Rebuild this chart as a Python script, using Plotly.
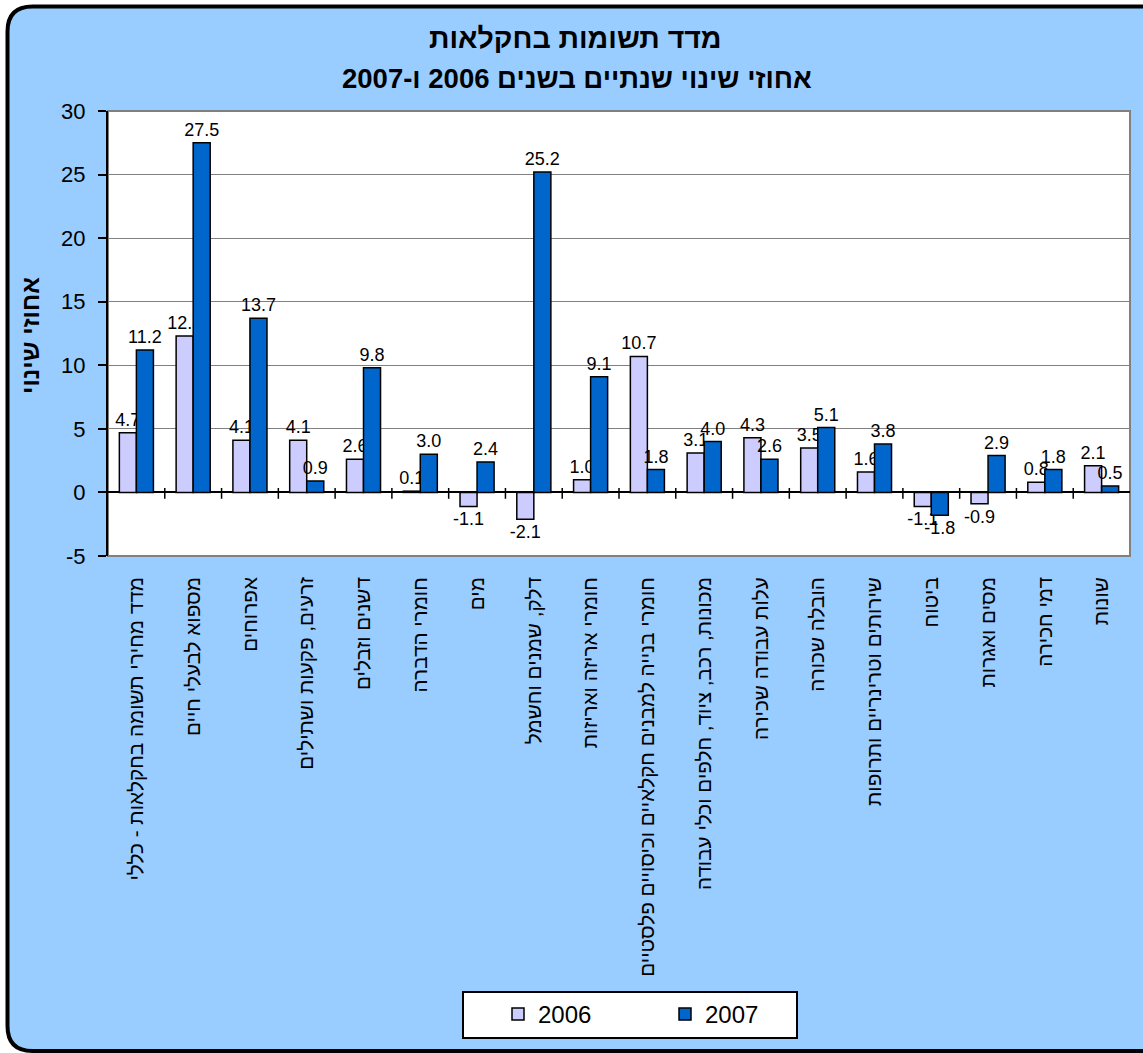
import plotly.graph_objects as go

categories = [
    "מדד מחירי תשומה בחקלאות - כללי",
    "מספוא לבעלי חיים",
    "אפרוחים",
    "זרעים, פקעות ושתילים",
    "דשנים וזבלים",
    "חומרי הדברה",
    "מים",
    "דלק, שמנים וחשמל",
    "חומרי אריזה ואריזות",
    "חומרי בנייה למבנים חקלאיים וכיסויים פלסטיים",
    "מכונות, רכב, ציוד, חלפים וכלי עבודה",
    "עלות עבודה שכירה",
    "הובלה שכורה",
    "שירותים וטרינריים ותרופות",
    "ביטוח",
    "מסים ואגרות",
    "דמי חכירה",
    "שונות",
]
values_2006 = [4.7, 12.3, 4.1, 4.1, 2.6, 0.1, -1.1, -2.1, 1.0, 10.7, 3.1, 4.3, 3.5, 1.6, -1.1, -0.9, 0.8, 2.1]
values_2007 = [11.2, 27.5, 13.7, 0.9, 9.8, 3.0, 2.4, 25.2, 9.1, 1.8, 4.0, 2.6, 5.1, 3.8, -1.8, 2.9, 1.8, 0.5]
series_names = ["2006", "2007"]
y_tickvals = [-5, 0, 5, 10, 15, 20, 25, 30]
y_ticktext = ["-5", "0", "5", "10", "15", "20", "25", "30"]
title_line1 = "מדד תשומות בחקלאות"
title_line2 = "אחוזי שינוי שנתיים בשנים 2006 ו-2007"
y_title = "אחוזי שינוי"

RLE, PDF = "\u202b", "\u202c"
def rtl(s):
    return RLE + s + PDF

W, H = 1143, 1053
L, R, T, B = 108, 1130, 111, 556  # plot area in pixels

def px(x):
    return (x - L) / (R - L)

def py(y):
    return (B - y) / (B - T)

cat_labels = [rtl(c) for c in categories]
xs = list(range(len(categories)))

fig = go.Figure()
colors = ["#CCCCFF", "#0066CC"]
for name, vals, col in zip(series_names, [values_2006, values_2007], colors):
    fig.add_trace(go.Bar(
        x=xs, y=vals, name=name,
        marker=dict(color=col, line=dict(color="black", width=1.5)),
        text=[f"{v:.1f}" for v in vals],
        textposition="outside",
        constraintext="none",
        textfont=dict(family="Arial", size=18, color="black"),
        cliponaxis=False,
    ))

shapes = []
# outer rounded frame (right side runs past the page edge)
x0, y0, x1, y1, r = 7.5, 6.5, 1168, 1051, 25
def P(x, y):
    return f"{px(x):.5f},{py(y):.5f}"
path = (f"M {P(x0+r, y0)} L {P(x1-r, y0)} Q {P(x1, y0)} {P(x1, y0+r)} "
        f"L {P(x1, y1-r)} Q {P(x1, y1)} {P(x1-r, y1)} "
        f"L {P(x0+r, y1)} Q {P(x0, y1)} {P(x0, y1-r)} "
        f"L {P(x0, y0+r)} Q {P(x0, y0)} {P(x0+r, y0)} Z")
shapes.append(dict(type="path", xref="paper", yref="paper", path=path,
                   fillcolor="#99CCFF", line=dict(color="black", width=4), layer="below"))
# plot area white with gray border
shapes.append(dict(type="rect", xref="paper", yref="paper", x0=0, y0=0, x1=1, y1=1,
                   fillcolor="white", line=dict(color="#808080", width=2), layer="below"))
# legend box
shapes.append(dict(type="rect", xref="paper", yref="paper",
                   x0=px(463), x1=px(797), y0=py(1038), y1=py(992),
                   fillcolor="white", line=dict(color="black", width=2), layer="below"))
# tick marks on zero line at category boundaries
for i in range(1, len(categories)):
    shapes.append(dict(type="line", xref="x", yref="y", x0=i - 0.5, x1=i - 0.5,
                       y0=-0.5, y1=0.35, line=dict(color="black", width=1.5)))

fig.update_layout(
    width=W, height=H,
    margin=dict(l=L, r=W - R, t=T, b=H - B, autoexpand=False),
    paper_bgcolor="white",
    plot_bgcolor="rgba(0,0,0,0)",
    barmode="group",
    bargap=0.4,
    bargroupgap=0,
    shapes=shapes,
    font=dict(family="Arial", color="black"),
    showlegend=True,
    legend=dict(
        orientation="h", x=px(498), xanchor="left", y=py(992), yanchor="top",
        bgcolor="rgba(0,0,0,0)", borderwidth=0,
        font=dict(family="Arial", size=24, color="black"),
        entrywidth=122, itemwidth=30,
    ),
    annotations=[
        dict(text="<b>" + rtl(title_line1) + "</b>", xref="paper", yref="paper",
             x=px(575), y=py(38), xanchor="center", yanchor="middle", showarrow=False,
             font=dict(size=28.5, family="Arial")),
        dict(text="<b>" + rtl(title_line2) + "</b>", xref="paper", yref="paper",
             x=px(577), y=py(78), xanchor="center", yanchor="middle", showarrow=False,
             font=dict(size=27.5, family="Arial")),
        dict(text="<b>" + rtl(y_title) + "</b>", xref="paper", yref="paper",
             x=px(30), y=py(336), xanchor="center", yanchor="middle", showarrow=False,
             textangle=-90, font=dict(size=24.5, family="Arial")),
    ],
)
fig.update_xaxes(
    tickmode="array", tickvals=xs, ticktext=cat_labels,
    tickangle=-90, ticks="", showline=False, showgrid=False,
    tickfont=dict(family="Arial", size=20.7, color="black"),
    ticklabelstandoff=16, automargin=False,
    range=[-0.5, len(categories) - 0.5],
)
fig.update_yaxes(
    range=[-5, 30], tickmode="array", tickvals=y_tickvals, ticktext=y_ticktext,
    ticks="outside", ticklen=8, tickwidth=2, tickcolor="black",
    showline=True, linecolor="black", linewidth=2,
    showgrid=True, gridcolor="#808080", gridwidth=1,
    zeroline=True, zerolinecolor="black", zerolinewidth=2,
    tickfont=dict(family="Arial", size=22, color="black"),
    ticklabelstandoff=8, automargin=False,
)

fig.write_html("out.html", config={"displayModeBar": False},
               post_script="document.body.style.margin='0';document.body.style.overflow='hidden';")
